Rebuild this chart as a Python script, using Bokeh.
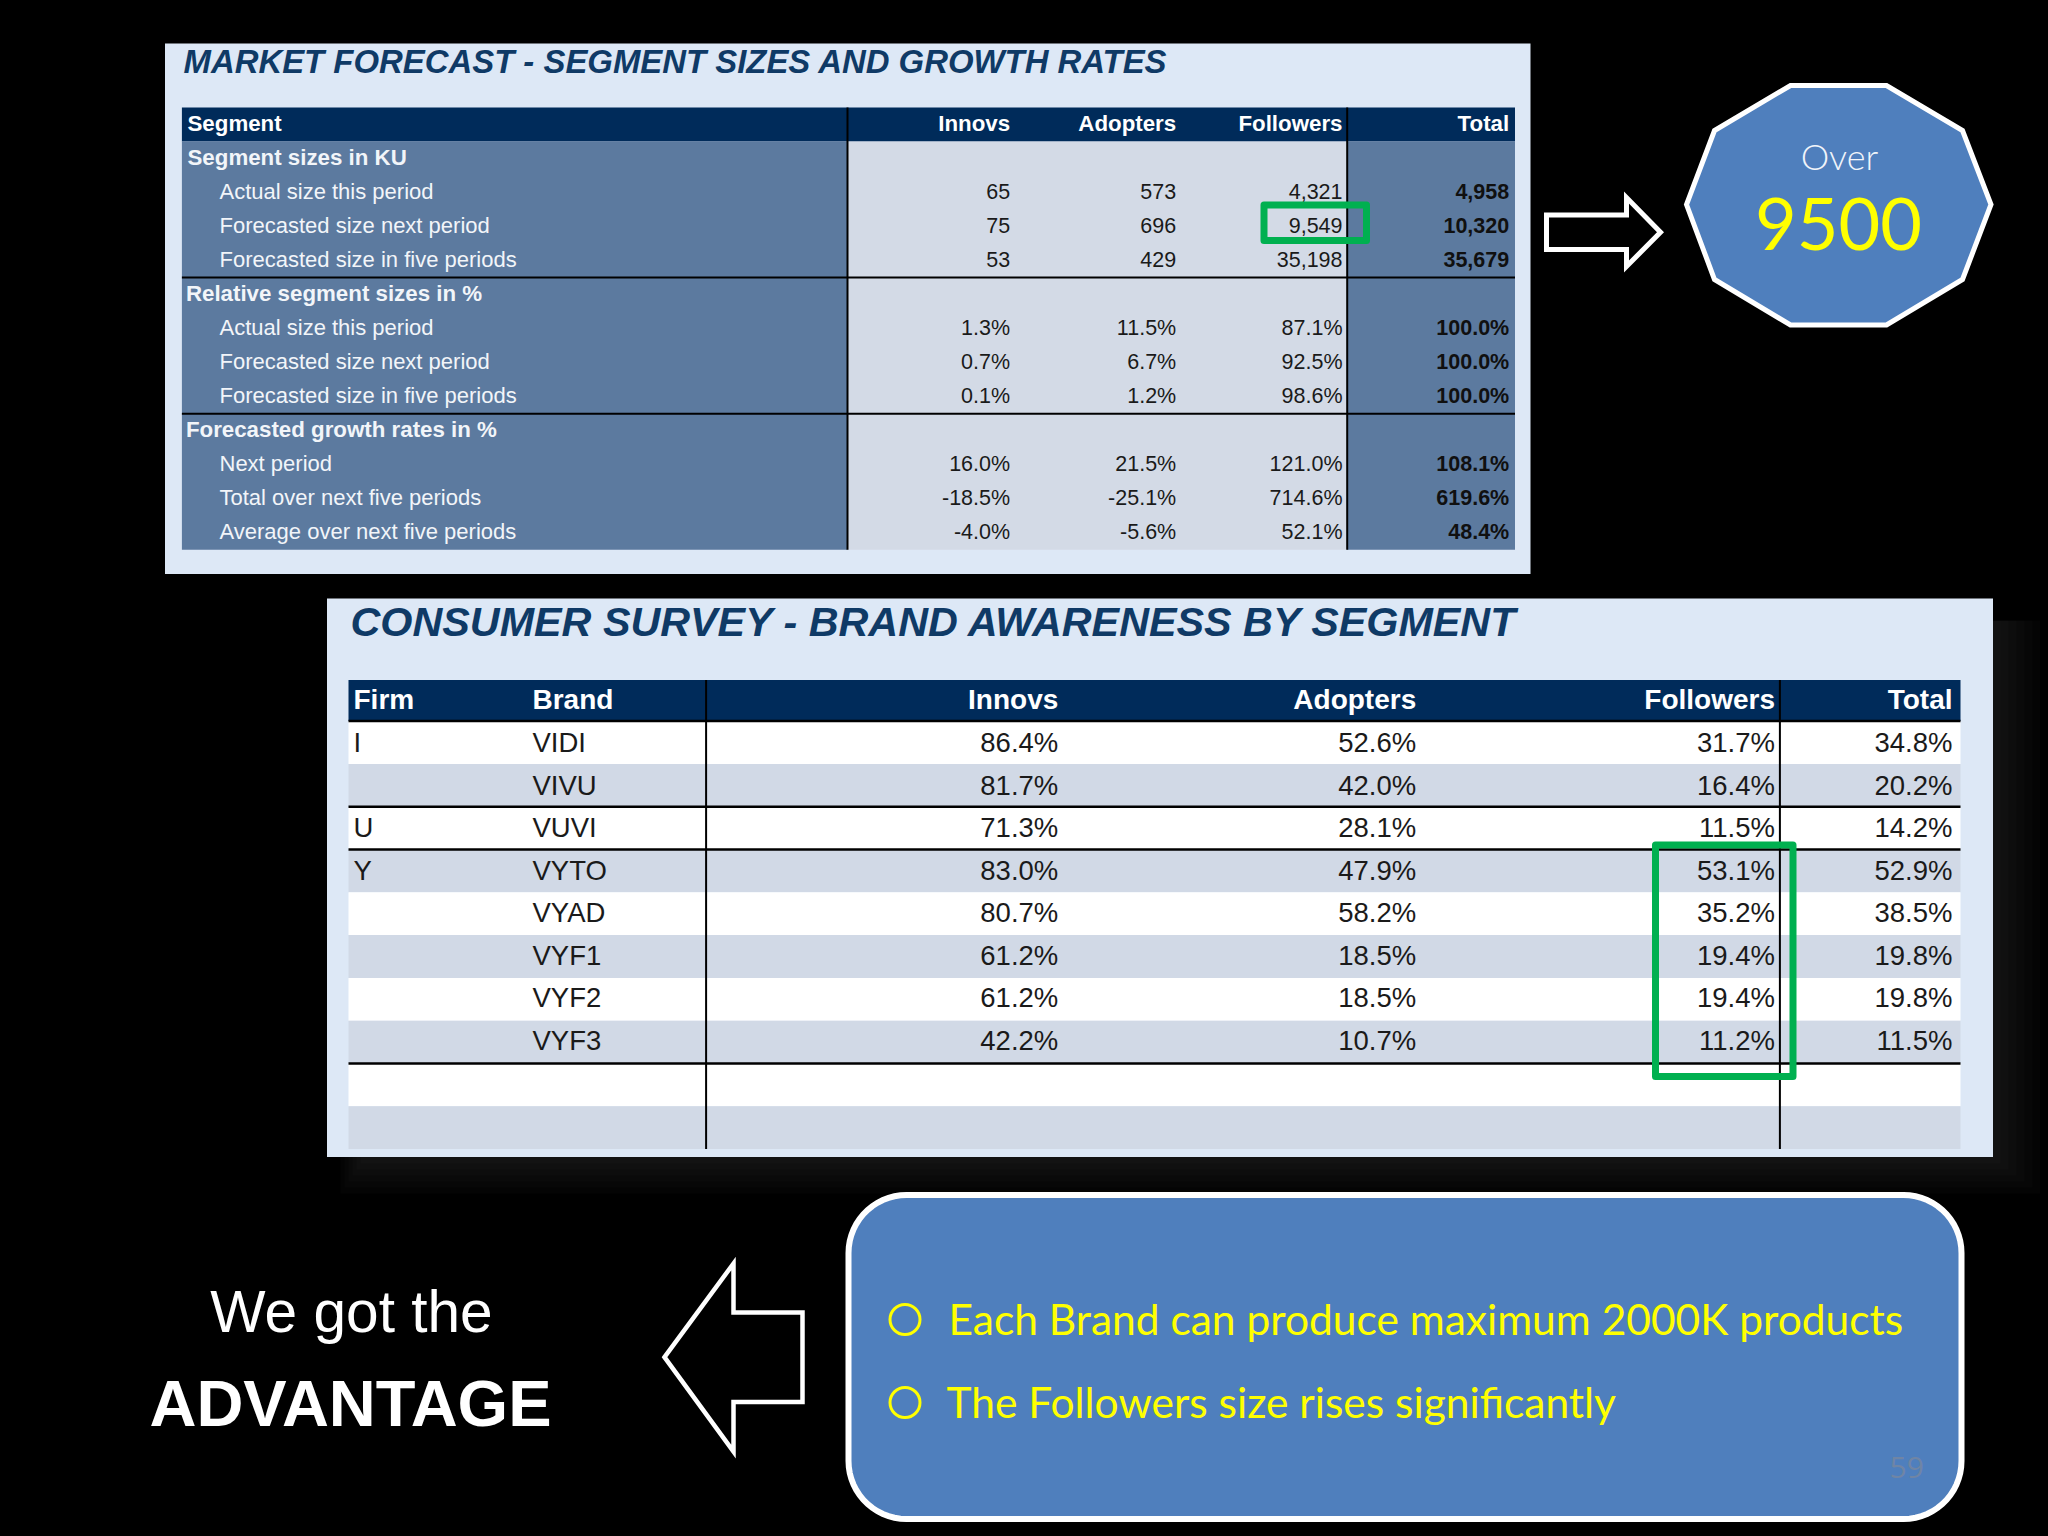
from bokeh.core.properties import value
from bokeh.embed import file_html
from bokeh.models import GlobalInlineStyleSheet
from bokeh.plotting import figure
from bokeh.resources import INLINE
import numpy as np

# Market forecast table
forecast_title = "MARKET FORECAST - SEGMENT SIZES AND GROWTH RATES"
forecast_columns = ["Innovs", "Adopters", "Followers", "Total"]
forecast_labels = ["Segment sizes in KU", "Actual size this period", "Forecasted size next period",
                   "Forecasted size in five periods", "Relative segment sizes in %", "Actual size this period",
                   "Forecasted size next period", "Forecasted size in five periods", "Forecasted growth rates in %",
                   "Next period", "Total over next five periods", "Average over next five periods"]
forecast_innovs = ["", "65", "75", "53", "", "1.3%", "0.7%", "0.1%", "", "16.0%", "-18.5%", "-4.0%"]
forecast_adopters = ["", "573", "696", "429", "", "11.5%", "6.7%", "1.2%", "", "21.5%", "-25.1%", "-5.6%"]
forecast_followers = ["", "4,321", "9,549", "35,198", "", "87.1%", "92.5%", "98.6%", "", "121.0%", "714.6%", "52.1%"]
forecast_total = ["", "4,958", "10,320", "35,679", "", "100.0%", "100.0%", "100.0%", "", "108.1%", "619.6%", "48.4%"]

# Brand awareness table
survey_title = "CONSUMER SURVEY - BRAND AWARENESS BY SEGMENT"
survey_columns = ["Innovs", "Adopters", "Followers", "Total"]
survey_firms = ["I", "", "U", "Y", "", "", "", ""]
survey_brands = ["VIDI", "VIVU", "VUVI", "VYTO", "VYAD", "VYF1", "VYF2", "VYF3"]
survey_innovs = ["86.4%", "81.7%", "71.3%", "83.0%", "80.7%", "61.2%", "61.2%", "42.2%"]
survey_adopters = ["52.6%", "42.0%", "28.1%", "47.9%", "58.2%", "18.5%", "18.5%", "10.7%"]
survey_followers = ["31.7%", "16.4%", "11.5%", "53.1%", "35.2%", "19.4%", "19.4%", "11.2%"]
survey_total = ["34.8%", "20.2%", "14.2%", "52.9%", "38.5%", "19.8%", "19.8%", "11.5%"]

# Callouts
callout_over = "Over"
callout_number = "9500"
advantage_lines = ["We got the", "ADVANTAGE"]
notes = ["Each Brand can produce maximum 2000K products", "The Followers size rises significantly"]
page_number = "59"

HAND_LIGHT = '"Lato Light", Lato'
HAND = "Lato"
SANS = "Liberation Sans"
NAVY = "#002B5A"
STEEL = "#5C7A9F"
PANEL = "#DDE8F6"
STRIPE = "#D1D9E6"
GREEN = "#00B050"
BLUE = "#4F7FBD"
INK = "#1A1A1A"
YELLOW = "#FFFF00"

# data coordinates are the pixels of the slide
p = figure(width=2040, height=1528, x_range=(0, 2040), y_range=(1528, 0), output_backend="svg",
           toolbar_location=None, x_axis_type=None, y_axis_type=None, min_border=0,
           background_fill_color="black", border_fill_color="black", outline_line_color=None)
p.grid.visible = False
p.stylesheets = [GlobalInlineStyleSheet(css="html, body { background: #000; }")]


def box(left, right, top, bottom, color, alpha=1.0):
    p.quad(left=[left], right=[right], top=[top], bottom=[bottom], fill_color=color, fill_alpha=alpha,
           line_color=None)


def rule(x0, y0, x1, y1, color="black", width=2.0):
    p.segment(x0=[x0], y0=[y0], x1=[x1], y1=[y1], line_color=color, line_width=width)


def write(xs, ys, texts, size, color=INK, align="right", font=SANS, style="normal"):
    # bokeh's alphabetic baseline lands about a third of an em too low
    p.text(x=xs, y=ys, text=texts, text_font=value(font), text_font_size=f"{size}px", text_color=color,
           text_align=align, text_baseline="alphabetic", text_font_style=style, y_offset=-0.35 * size)


def outline(xs, ys, fill=None, width=5.0, color="white"):
    p.patch(x=xs, y=ys, fill_color=fill, fill_alpha=1.0 if fill else 0.0, line_color=color, line_width=width,
            line_join="miter")


# 1. Shadow behind the survey panel
for i in range(6):
    box(360 - 4 * i, 1992 + 8 * (i + 1), 620, 1157 + 6 * (i + 1), "white", 0.014)

# 2. Market forecast panel
box(164.5, 1530, 43, 573.5, PANEL)
f_left, f_right, f_mid, f_total = 181.4, 1514.5, 847, 1346.7
f_top, f_head, f_row = 107, 141, 34.03
f_rows = f_head + np.arange(len(forecast_labels)) * f_row
f_bottom = f_head + len(forecast_labels) * f_row
box(f_left, f_right, f_top, f_head, NAVY)
box(f_left, f_mid, f_head, f_bottom, STEEL)
box(f_mid, f_total, f_head, f_bottom, "#D3DAE6")
box(f_total, f_right, f_head, f_bottom, STEEL)
for row in (4, 8):
    rule(f_left, f_rows[row], f_right, f_rows[row])
for x in (f_mid, f_total):
    rule(x, f_top, x, f_bottom)

write([183], [72.8], [forecast_title], 32.9, color="#0F3A66", align="left", style="bold italic")
write([187], [130.7], ["Segment"], 22.3, color="white", align="left", style="bold")
f_right_edges = [1009.6, 1175.7, 1342, 1508.7]
write(f_right_edges, [130.7] * 4, forecast_columns, 22.3, color="white", style="bold")

f_base = f_rows + 23.8
for i, label in enumerate(forecast_labels):
    if i % 4 == 0:
        write([187 if i == 0 else 185.4], [f_base[i]], [label], 22.3, color="#F2F5F9", align="left", style="bold")
    else:
        write([219], [f_base[i]], [label], 22, color="#F2F5F9", align="left")
for x, column, style, colour in zip(f_right_edges,
                                    [forecast_innovs, forecast_adopters, forecast_followers, forecast_total],
                                    ["normal", "normal", "normal", "bold"], [INK, INK, INK, "#101010"]):
    write([x] * len(column), list(f_base), column, 21.5, color=colour, style=style)

# 3. Survey panel
box(326.5, 1992.5, 598, 1156.5, PANEL)
s_left, s_right, s_mid, s_total = 348, 1960, 705.6, 1779.4
s_top, s_head, s_row = 679.5, 720.6, 42.8
n_rows = 10
s_rows = s_head + np.arange(n_rows) * s_row
s_bottom = s_head + n_rows * s_row
box(s_left, s_right, s_top, s_head, NAVY)
for i in range(n_rows):
    box(s_left, s_right, s_rows[i], s_rows[i] + s_row, "white" if i in (0, 2, 4, 6, 8) else STRIPE)
rule(s_left, s_head, s_right, s_head, width=2.5)
for row in (2, 3, 8):
    rule(s_left, s_rows[row], s_right, s_rows[row], width=2.5)
for x in (s_mid, s_total):
    rule(x, s_top, x, s_bottom)

write([350], [636], [survey_title], 41.3, color="#0F3A66", align="left", style="bold italic")
write([353, 532], [709, 709], ["Firm", "Brand"], 28, color="white", align="left", style="bold")
s_right_edges = [1057.8, 1415.7, 1774.5, 1952]
write(s_right_edges, [709] * 4, survey_columns, 28, color="white", style="bold")
s_base = 751.6 + np.arange(len(survey_brands)) * 42.55
write([353] * len(survey_firms), list(s_base), survey_firms, 27.5, align="left")
write([532] * len(survey_brands), list(s_base), survey_brands, 27.5, align="left")
for x, column in zip(s_right_edges, [survey_innovs, survey_adopters, survey_followers, survey_total]):
    write([x] * len(column), list(s_base), column, 27.5)

# 4. Green highlights
p.quad(left=[1263.5, 1655], right=[1366, 1792.5], top=[204.5, 844.5], bottom=[240, 1076],
       fill_color=None, line_color=GREEN, line_width=7, line_join="round")

# 5. Arrow and decagon, top right
outline([1546, 1626, 1626, 1660, 1626, 1626, 1546], [214.5, 214.5, 197, 231.7, 266, 249, 249])
outline([1790, 1886, 1962, 1990.5, 1962, 1886, 1790, 1714, 1686, 1714],
        [85, 85, 130, 204, 279, 324.5, 324.5, 279, 204, 130], fill=BLUE)
write([1839], [168], [callout_over], 36, color="#F0F4FA", align="center", font=HAND_LIGHT)
write([1838], [249], [callout_number], 72, color=YELLOW, align="center", font=HAND)

# 6. Advantage text and left arrow
write([351], [1332], [advantage_lines[0]], 58.6, color="white", align="center")
write([350], [1426], [advantage_lines[1]], 65, color="white", align="center", style="bold")
outline([664, 733, 733, 802, 802, 733, 733], [1356.7, 1263, 1312, 1312, 1401.5, 1401.5, 1451], width=4.5)

# 7. Rounded notes box
left, right, top, bottom, radius = 848, 1961, 1194.5, 1518.5, 58
arc = np.linspace(0, np.pi / 2, 16)
corner_x = np.concatenate([right - radius + radius * np.sin(arc), right - radius + radius * np.cos(arc),
                           left + radius - radius * np.sin(arc), left + radius - radius * np.cos(arc)])
corner_y = np.concatenate([top + radius - radius * np.cos(arc), bottom - radius + radius * np.sin(arc),
                           bottom - radius + radius * np.cos(arc), top + radius - radius * np.sin(arc)])
outline(list(corner_x), list(corner_y), fill=BLUE, width=6)

p.scatter(x=[904.5, 904.5], y=[1319, 1402], marker="circle", size=30, fill_color=None, line_color=YELLOW,
          line_width=3)
write([948, 946], [1333, 1415.5], notes, 42.5, color=YELLOW, align="left", font=HAND)
write([1889], [1477], [page_number], 30, color="#6F85A5", align="left", font="Open Sans")

open("out.html", "w").write(file_html(p, INLINE))
